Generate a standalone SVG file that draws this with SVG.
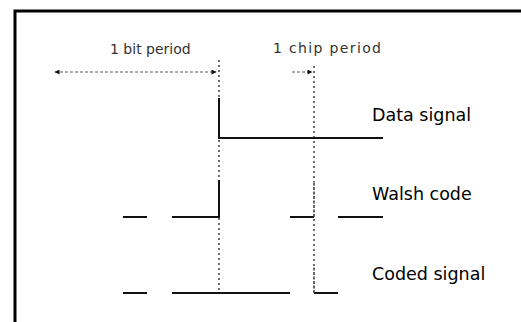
<svg xmlns="http://www.w3.org/2000/svg" width="521" height="322" viewBox="0 0 521 322">
<defs>
<style>
.frame{stroke:#000;stroke-width:3;fill:none}
.sig{stroke:#111;stroke-width:2;fill:none}
.faint{stroke:#333;stroke-width:1.5;stroke-dasharray:3 1.5;fill:none}
.dot{stroke:#333;stroke-width:1.4;stroke-dasharray:2 3;fill:none}
.dim{stroke:#555;stroke-width:1;stroke-dasharray:3 2;fill:none}
.lbl{font-family:"DejaVu Sans",Verdana,sans-serif;font-size:17.5px;fill:#000}
.small{font-family:"DejaVu Sans",Verdana,sans-serif;font-size:14px;fill:#333}
</style>
<marker id="ah" viewBox="0 0 10 10" refX="9" refY="5" markerWidth="7" markerHeight="5" orient="auto-start-reverse" markerUnits="userSpaceOnUse">
<path d="M0,0 L10,5 L0,10 z" fill="#111"/>
</marker>
</defs>
<rect width="521" height="322" fill="#fff"/>
<path class="frame" d="M15,322 V11 H521"/>
<g id="connectors">
<path class="dot" d="M219,60 V98"/>
<path class="dot" d="M219,140 V180"/>
<path class="dot" d="M219,218 V292"/>
<path class="dot" d="M314,66 V182"/>
<path class="dot" d="M314,219 V267"/>
<line class="dim" x1="55" y1="72" x2="216" y2="72" marker-start="url(#ah)" marker-end="url(#ah)"/>
<line class="dim" x1="292" y1="72" x2="312" y2="72" marker-end="url(#ah)"/>
</g>
<g id="data-signal">
<path class="sig" d="M219,98 V138 H383"/>
<text class="lbl" x="372" y="121">Data signal</text>
</g>
<g id="walsh-code">
<path class="sig" d="M123,217 H147 M172,217 H219 V180 M290,217 H314 M338,217 H383"/>
<path class="faint" d="M314,217 V182"/>
<text class="lbl" x="372" y="200">Walsh code</text>
</g>
<g id="coded-signal">
<path class="sig" d="M123,293 H147 M172,293 H290 M314,293 H338"/>
<path class="faint" d="M314,293 V267"/>
<text class="lbl" x="372" y="280">Coded signal</text>
</g>
<g id="bit-period">
<text class="small" x="110" y="54">1 bit period</text>
</g>
<g id="chip-period">
<text class="small" x="273" y="53" textLength="108">1 chip period</text>
</g>
</svg>
